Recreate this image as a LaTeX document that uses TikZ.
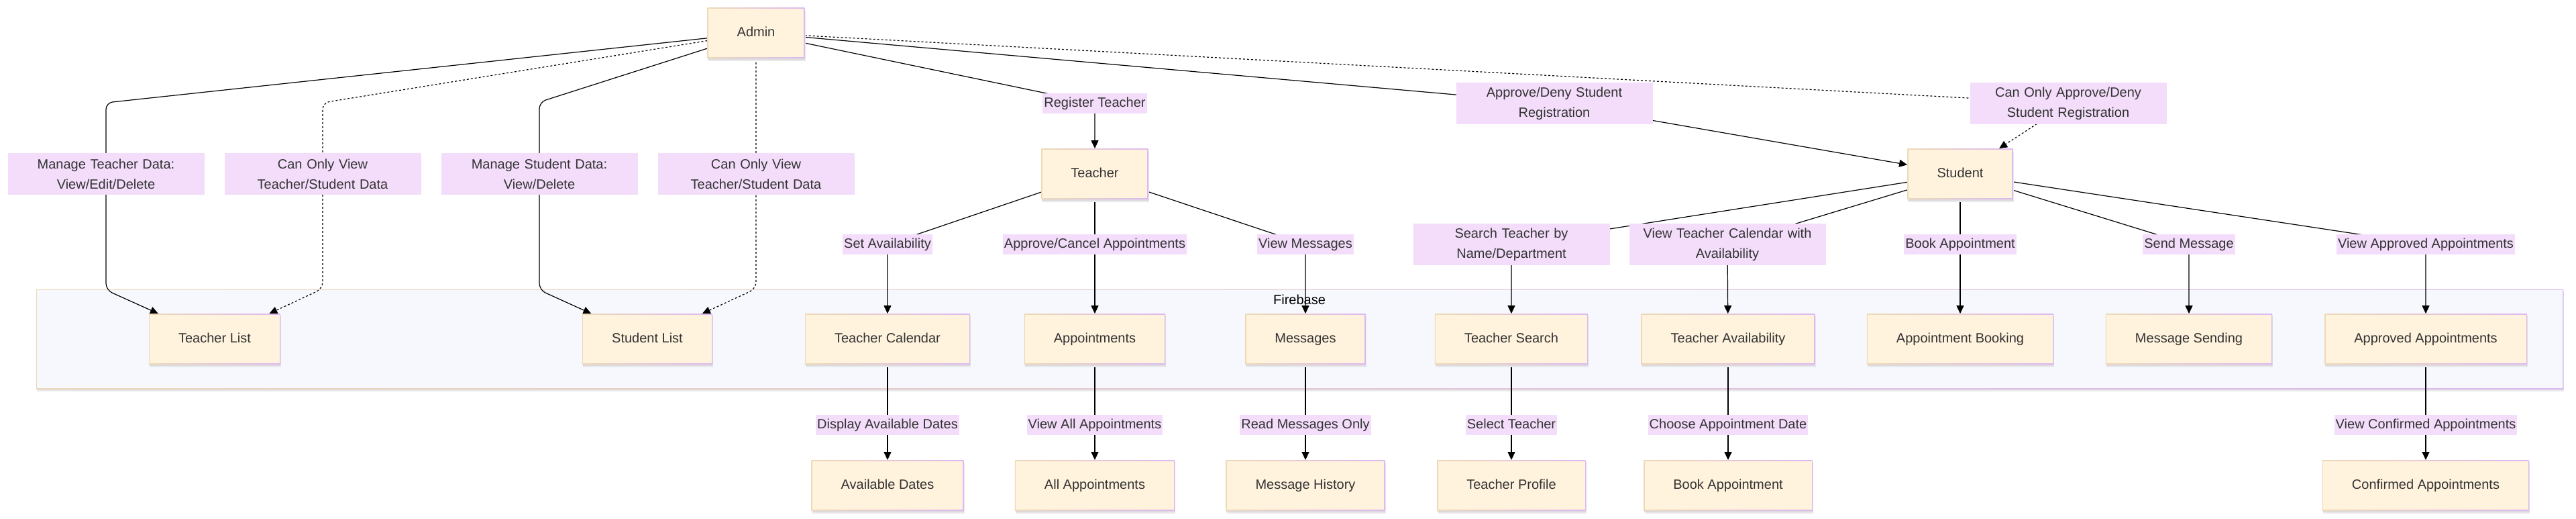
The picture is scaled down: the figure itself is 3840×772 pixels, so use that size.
\documentclass[tikz,border=0pt]{standalone}
\usepackage{fontspec}
\setmainfont{Liberation Sans}
\usetikzlibrary{arrows.meta,shadows}
\definecolor{nodefill}{HTML}{FFF3DD}
\definecolor{tanC}{HTML}{EDD9B6}
\definecolor{purpC}{HTML}{DDB8F2}
\definecolor{lblbg}{HTML}{F3DDFB}
\definecolor{clfill}{HTML}{F7F8FD}
\definecolor{shadowA}{HTML}{E9E9EC}
\definecolor{shadowB}{HTML}{DCDCE0}
\definecolor{txt}{HTML}{333333}
\pgfdeclarelayer{back}
\pgfdeclarelayer{bg}
\pgfdeclarelayer{edges}
\pgfsetlayers{back,bg,edges,main}
\begin{document}
\begin{tikzpicture}[x=0.5pt,y=-0.5pt,
  every node/.style={font=\fontsize{10pt}{15pt}\selectfont, text=txt},
  gradborder/.style={left color=tanC, right color=purpC,
    path picture={\fill[#1] ([shift={(0.6pt,0.6pt)}]path picture bounding box.south west) rectangle ([shift={(-0.6pt,-0.6pt)}]path picture bounding box.north east);}},
  softshadow/.style={
    drop shadow={shadow xshift=0.6pt, shadow yshift=-2.2pt, fill=shadowA, opacity=1},
    drop shadow={shadow xshift=0.4pt, shadow yshift=-1.2pt, fill=shadowB, opacity=1}},
  box/.style={rectangle, softshadow, gradborder=nodefill, minimum height=37.5pt, inner xsep=22pt, inner ysep=0pt,
    text height=7pt, text depth=1.5pt},
  cluster/.style={rectangle, softshadow, gradborder=clfill, minimum width=1883.5pt, minimum height=74pt, inner sep=0pt},
  lbl/.style={fill=lblbg, inner xsep=1pt, inner ysep=0pt, minimum height=15pt, text height=7pt, text depth=1.5pt},
  lbltwo/.style={fill=lblbg, inner sep=0pt, text width=146.5pt, align=center, minimum height=31pt},
  conn/.style={draw=black, line width=0.6pt, rounded corners=5pt, -{Triangle[length=6pt,width=5.5pt]}},
  dconn/.style={conn, dash pattern=on 1.5pt off 1.5pt}
]
\begin{pgfonlayer}{back}
\fill[white] (0,0) rectangle (3840,772);
\end{pgfonlayer}
\useasboundingbox (0,0) rectangle (3840,772);

% cluster
\begin{pgfonlayer}{bg}
\node[cluster] (fb) at (1937.5,505) {};
\end{pgfonlayer}
\node[text=black] (fblabel) at (1937,446) {Firebase};

% main nodes
\node[box] (admin) at (1127,49) {Admin};
\node[box] (teacher) at (1632,259) {Teacher};
\node[box] (student) at (2922,259) {Student};

% row 2
\node[box] (tlist) at (320,505) {Teacher List};
\node[box] (slist) at (965,505) {Student List};
\node[box] (tcal) at (1323,505) {Teacher Calendar};
\node[box] (appts) at (1632,505) {Appointments};
\node[box] (msgs) at (1946,505) {Messages};
\node[box] (tsearch) at (2253,505) {Teacher Search};
\node[box] (tavail) at (2576,505) {Teacher Availability};
\node[box] (abook) at (2922,505) {Appointment Booking};
\node[box] (msend) at (3263,505) {Message Sending};
\node[box] (approved) at (3616,505) {Approved Appointments};

% row 3
\node[box] (avdates) at (1323,723) {Available Dates};
\node[box] (allappts) at (1632,723) {All Appointments};
\node[box] (msghist) at (1946,723) {Message History};
\node[box] (tprofile) at (2253,723) {Teacher Profile};
\node[box] (bookappt) at (2576,723) {Book Appointment};
\node[box] (confirmed) at (3616,723) {Confirmed Appointments};

% labels
\node[lbltwo] (lMT) at (158,259) {Manage Teacher Data:\\View/Edit/Delete};
\node[lbltwo] (lCV1) at (481,259) {Can Only View\\Teacher/Student Data};
\node[lbltwo] (lMS) at (804,259) {Manage Student Data:\\View/Delete};
\node[lbltwo] (lCV2) at (1127,259) {Can Only View\\Teacher/Student Data};
\node[lbl] (lRT) at (1632,154) {Register Teacher};
\node[lbltwo] (lAD) at (2317,154) {Approve/Deny Student\\Registration};
\node[lbltwo] (lCA) at (3083,154) {Can Only Approve/Deny\\Student Registration};
\node[lbl] (lSA) at (1323,364) {Set Availability};
\node[lbl] (lAC) at (1632,364) {Approve/Cancel Appointments};
\node[lbl] (lVM) at (1946,364) {View Messages};
\node[lbltwo] (lST) at (2253,364) {Search Teacher by\\Name/Department};
\node[lbltwo] (lVT) at (2575,364) {View Teacher Calendar with\\Availability};
\node[lbl] (lBA) at (2922,364) {Book Appointment};
\node[lbl] (lSM) at (3263,364) {Send Message};
\node[lbl] (lVA) at (3616,364) {View Approved Appointments};
\node[lbl] (lDAD) at (1323,633) {Display Available Dates};
\node[lbl] (lVAA) at (1632,633) {View All Appointments};
\node[lbl] (lRMO) at (1946,633) {Read Messages Only};
\node[lbl] (lSelT) at (2253,633) {Select Teacher};
\node[lbl] (lCAD) at (2576,633) {Choose Appointment Date};
\node[lbl] (lVCA) at (3616,633) {View Confirmed Appointments};

% connectors
\begin{pgfonlayer}{edges}
\draw[conn] (admin) -- (158,153) -- (lMT.center) -- (158,432) -- (tlist);
\draw[dconn] (admin) -- (481,153) -- (lCV1.center) -- (481,430) -- (tlist);
\draw[conn] (admin) -- (804,152) -- (lMS.center) -- (804,432) -- (slist);
\draw[dconn] (admin) -- (lCV2.center) -- (1127,430) -- (slist);
\draw[conn] (admin) -- (lRT.center) -- (teacher);
\draw[conn] (admin) -- (lAD.center) -- (student);
\draw[dconn] (admin) -- (lCA.center) -- (student);
\draw[conn] (teacher) -- (lSA.center) -- (tcal);
\draw[conn] (teacher) -- (lAC.center) -- (appts);
\draw[conn] (teacher) -- (lVM.center) -- (msgs);
\draw[conn] (student) -- (lST.center) -- (tsearch);
\draw[conn] (student) -- (lVT.center) -- (tavail);
\draw[conn] (student) -- (lBA.center) -- (abook);
\draw[conn] (student) -- (lSM.center) -- (msend);
\draw[conn] (student) -- (lVA.center) -- (approved);
\draw[conn] (tcal) -- (lDAD.center) -- (avdates);
\draw[conn] (appts) -- (lVAA.center) -- (allappts);
\draw[conn] (msgs) -- (lRMO.center) -- (msghist);
\draw[conn] (tsearch) -- (lSelT.center) -- (tprofile);
\draw[conn] (tavail) -- (lCAD.center) -- (bookappt);
\draw[conn] (approved) -- (lVCA.center) -- (confirmed);
\end{pgfonlayer}
\end{tikzpicture}
\end{document}
